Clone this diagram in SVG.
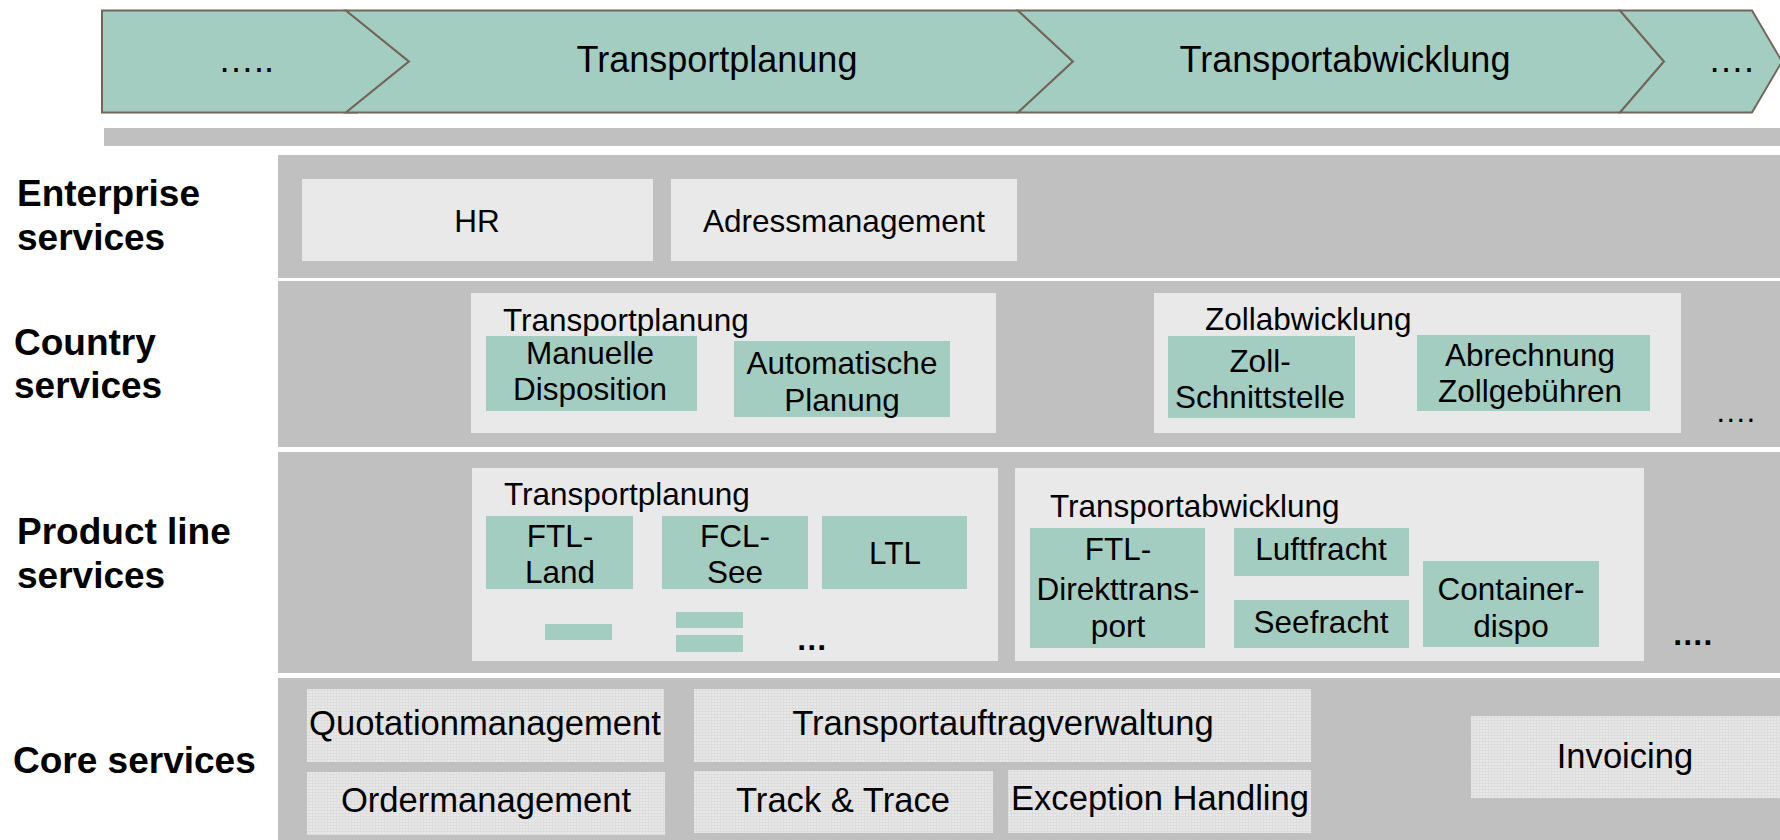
<svg xmlns="http://www.w3.org/2000/svg" width="1780" height="840" viewBox="0 0 1780 840">
<style>
text{font-family:"Liberation Sans",Arial,sans-serif;fill:#000}
.t36{font-size:36px}
.t31{font-size:31.5px}
.t35{font-size:34.6px}
.lbl{font-size:37px;font-weight:bold}
.mid{text-anchor:middle}
.chev{fill:#a4cdc1;stroke:#72665c;stroke-width:2}
.panel{fill:#c0c0c0}
.box{fill:#e9e9e9}
.teal{fill:#a4cdc1}
.core{fill:url(#grid)}
</style>
<defs>
<pattern id="grid" width="3" height="3" patternUnits="userSpaceOnUse">
<rect width="3" height="3" fill="#e8e8e8"/>
<rect width="3" height="1" fill="#dcdcdc"/>
<rect width="1" height="3" fill="#dedede"/>
</pattern>
</defs>
<rect width="1780" height="840" fill="#fff"/>

<g id="process-bar">
<g id="step1">
<polygon class="chev" points="102,10.5 346,10.5 409,61.5 346,112.5 102,112.5"/>
<line x1="346" y1="112.5" x2="358" y2="112.5" stroke="#72665c" stroke-width="2"/>
<text class="t36 mid" x="246" y="72">…..</text>
</g>
<g id="step2">
<polygon class="chev" points="346,10.5 1018,10.5 1073,61.5 1018,112.5 346,112.5 409,61.5"/>
<text class="t36 mid" x="717" y="72">Transportplanung</text>
</g>
<g id="step3">
<polygon class="chev" points="1018,10.5 1620,10.5 1664,61.5 1620,112.5 1018,112.5 1073,61.5"/>
<text class="t36 mid" x="1345" y="72">Transportabwicklung</text>
</g>
<g id="step4">
<polygon class="chev" points="1620,10.5 1752,10.5 1782,61.5 1752,112.5 1620,112.5 1664,61.5"/>
<text class="t36 mid" x="1731" y="72">….</text>
</g>
<rect x="104" y="128" width="1676" height="18" fill="#c0c0c0"/>
</g>

<g id="enterprise">
<rect class="panel" x="278" y="155" width="1502" height="123"/>
<text class="lbl" x="17" y="206">Enterprise</text>
<text class="lbl" x="17" y="250">services</text>
<g id="hr"><rect class="box" x="302" y="179" width="351" height="82"/><text class="t31 mid" x="477" y="232">HR</text></g>
<g id="adress"><rect class="box" x="671" y="179" width="346" height="82"/><text class="t31 mid" x="844" y="232">Adressmanagement</text></g>
</g>

<g id="country">
<rect class="panel" x="278" y="281" width="1502" height="166"/>
<text class="lbl" x="14" y="355">Country</text>
<text class="lbl" x="14" y="398">services</text>
<g id="c-transportplanung">
<rect class="box" x="471" y="293" width="525" height="140"/>
<text class="t31" x="503" y="331">Transportplanung</text>
<g id="manuelle"><rect class="teal" x="486" y="336" width="211" height="75"/>
<text class="t31 mid" x="590" y="364">Manuelle</text><text class="t31 mid" x="590" y="400">Disposition</text></g>
<g id="automatische"><rect class="teal" x="734" y="341" width="216" height="76"/>
<text class="t31 mid" x="842" y="374">Automatische</text><text class="t31 mid" x="842" y="411">Planung</text></g>
</g>
<g id="c-zoll">
<rect class="box" x="1154" y="293" width="527" height="140"/>
<text class="t31" x="1205" y="330">Zollabwicklung</text>
<g id="zoll-schnitt"><rect class="teal" x="1168" y="336" width="187" height="82"/>
<text class="t31 mid" x="1260" y="372">Zoll-</text><text class="t31 mid" x="1260" y="408">Schnittstelle</text></g>
<g id="abrechnung"><rect class="teal" x="1417" y="335" width="233" height="76"/>
<text class="t31 mid" x="1530" y="366">Abrechnung</text><text class="t31 mid" x="1530" y="402">Zollgebühren</text></g>
</g>
<text class="t31" x="1715" y="422">….</text>
</g>

<g id="productline">
<rect class="panel" x="278" y="452" width="1502" height="221"/>
<text class="lbl" x="17" y="544">Product line</text>
<text class="lbl" x="17" y="588">services</text>
<g id="p-transportplanung">
<rect class="box" x="472" y="468" width="526" height="193"/>
<text class="t31" x="504" y="505">Transportplanung</text>
<g id="ftl-land"><rect class="teal" x="486" y="516" width="147" height="73"/>
<text class="t31 mid" x="560" y="547">FTL-</text><text class="t31 mid" x="560" y="583">Land</text></g>
<g id="fcl-see"><rect class="teal" x="662" y="516" width="146" height="73"/>
<text class="t31 mid" x="735" y="547">FCL-</text><text class="t31 mid" x="735" y="583">See</text></g>
<g id="ltl"><rect class="teal" x="822" y="516" width="145" height="73"/>
<text class="t31 mid" x="895" y="564">LTL</text></g>
<rect class="teal" x="545" y="624" width="67" height="16"/>
<rect class="teal" x="676" y="612" width="67" height="16"/>
<rect class="teal" x="676" y="635" width="67" height="17"/>
<text class="t31" x="796" y="650" font-weight="bold">…</text>
</g>
<g id="p-transportabwicklung">
<rect class="box" x="1015" y="468" width="629" height="193"/>
<text class="t31" x="1050" y="517">Transportabwicklung</text>
<g id="ftl-direkt"><rect class="teal" x="1030" y="528" width="175" height="120"/>
<text class="t31 mid" x="1118" y="560">FTL-</text><text class="t31 mid" x="1118" y="600">Direkttrans-</text><text class="t31 mid" x="1118" y="637">port</text></g>
<g id="luftfracht"><rect class="teal" x="1234" y="528" width="175" height="48"/>
<text class="t31 mid" x="1321" y="560">Luftfracht</text></g>
<g id="seefracht"><rect class="teal" x="1234" y="600" width="175" height="48"/>
<text class="t31 mid" x="1321" y="633">Seefracht</text></g>
<g id="container"><rect class="teal" x="1423" y="561" width="176" height="86"/>
<text class="t31 mid" x="1511" y="600">Container-</text><text class="t31 mid" x="1511" y="637">dispo</text></g>
</g>
<text class="t31" x="1672" y="645" font-weight="bold">….</text>
</g>

<g id="core">
<rect class="panel" x="278" y="678" width="1502" height="162"/>
<text class="lbl" x="13" y="773">Core services</text>
<g id="quotation"><rect class="core" x="307" y="689" width="357" height="73"/><text class="t35 mid" x="485" y="735">Quotationmanagement</text></g>
<g id="transportauftrag"><rect class="core" x="694" y="689" width="617" height="73"/><text class="t35 mid" x="1003" y="735">Transportauftragverwaltung</text></g>
<g id="order"><rect class="core" x="307" y="772" width="358" height="63"/><text class="t35 mid" x="486" y="812">Ordermanagement</text></g>
<g id="track"><rect class="core" x="694" y="771" width="299" height="62"/><text class="t35 mid" x="843" y="812">Track &amp; Trace</text></g>
<g id="exception"><rect class="core" x="1008" y="770" width="303" height="63"/><text class="t35 mid" x="1160" y="810">Exception Handling</text></g>
<g id="invoicing"><rect class="core" x="1471" y="716" width="309" height="82"/><text class="t35 mid" x="1625" y="768">Invoicing</text></g>
</g>

<g id="connectors"></g>
</svg>
